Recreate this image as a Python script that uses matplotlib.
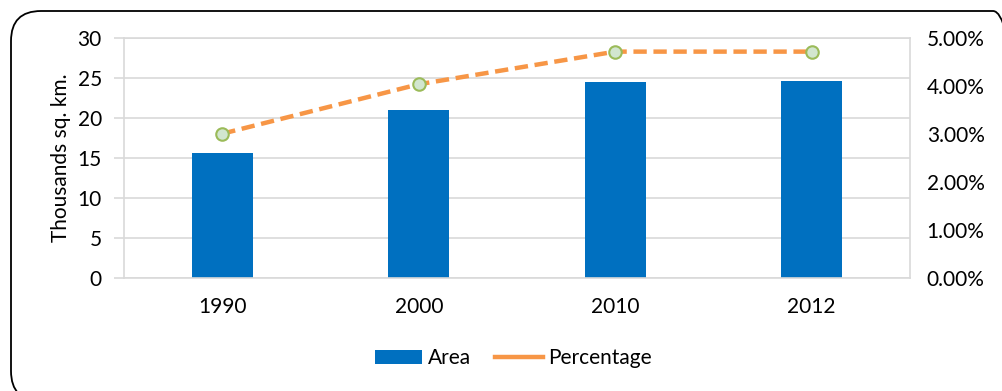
import numpy as np
import matplotlib.pyplot as plt
from matplotlib.patches import FancyBboxPatch, Patch
from matplotlib.lines import Line2D
from matplotlib.ticker import FuncFormatter

years = ["1990", "2000", "2010", "2012"]
area = [15.6, 21.0, 24.5, 24.6]          # thousands sq. km
percentage = [3.00, 4.03, 4.71, 4.71]    # percent

bar_color = "#0070C0"
line_color = "#F79646"
grid_color = "#D9D9D9"

plt.rcParams['font.family'] = ['Lato', 'DejaVu Sans']
plt.rcParams['font.size'] = 15

W, H = 1002, 391
fig = plt.figure(figsize=(W / 100, H / 100), dpi=100)

# rounded outer frame, in pixel units (bottom and right run past the edge)
frame = FancyBboxPatch((11, -10), 1012, H - 11 + 10,
                       boxstyle="round,pad=0,rounding_size=30", transform=None,
                       facecolor="none", edgecolor="black", linewidth=1.3, zorder=-1)
fig.patches.append(frame)

ax = fig.add_axes([124 / W, 1 - 277.7 / H, (910 - 124) / W, (277.7 - 37.7) / H])
ax.set_facecolor("none")
x = np.arange(len(years))
ax.bar(x, area, width=0.31, color=bar_color, zorder=2)
ax.set_xlim(-0.5, len(years) - 0.5)
ax.set_ylim(0, 30)
ax.set_yticks(np.arange(0, 31, 5))
ax.set_xticks(x)
ax.set_xticklabels(years)
ax.yaxis.grid(True, color=grid_color, linewidth=1.2, zorder=0)
ax.set_axisbelow(True)
for s in ax.spines.values():
    s.set_color(grid_color)
    s.set_linewidth(1.2)
ax.tick_params(axis='y', length=7, color=grid_color, width=1.2, pad=9)
ax.tick_params(axis='x', length=0, pad=14)
ax.set_ylabel("Thousands sq. km.", labelpad=5)

ax2 = ax.twinx()
ax2.plot(x, percentage, color=line_color, linewidth=3.2, linestyle=(0, (3.0, 1.5)),
         marker='o', markersize=9, markerfacecolor="#D2E6CF", markeredgecolor="#9BBB59",
         markeredgewidth=1.5, zorder=3)
ax2.set_ylim(0, 5)
ax2.set_yticks(np.arange(0, 5.01, 1))
ax2.yaxis.set_major_formatter(FuncFormatter(lambda v, p: f"{v:.2f}%"))
ax2.tick_params(axis='y', length=0, pad=12)
for s in ax2.spines.values():
    s.set_visible(False)

handles = [Patch(facecolor=bar_color, label="Area"),
           Line2D([0], [0], color=line_color, linewidth=3.2, label="Percentage")]
fig.legend(handles=handles, loc='center', bbox_to_anchor=(513 / W, 1 - 358 / H), ncol=2,
           frameon=False, handlelength=2.3, handleheight=0.65, handletextpad=0.25,
           columnspacing=1.15)

fig.savefig("out.png", dpi=100)
